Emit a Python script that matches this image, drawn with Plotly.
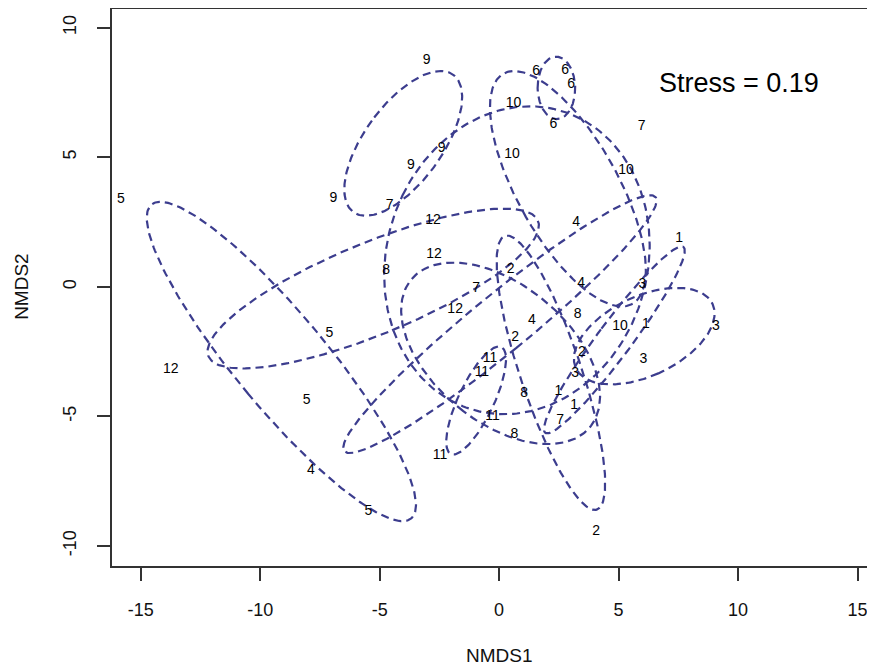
import numpy as np
import plotly.graph_objects as go

# Site scores (NMDS1, NMDS2) per group label
groups = ["1", "2", "3", "4", "5", "6", "7", "8", "9", "10", "11", "12"]
nmds1 = {
    "1": [7.53, 6.14, 2.48, 3.14],
    "2": [0.48, 0.67, 3.46, 4.06],
    "3": [6.00, 9.07, 6.04, 3.18],
    "4": [3.22, 3.43, 1.37, -7.88],
    "5": [-15.83, -7.10, -8.05, -5.47],
    "6": [1.55, 2.76, 3.01, 2.27],
    "7": [-4.58, -0.96, 5.97, 2.55],
    "8": [-4.73, 3.29, 1.05, 0.64],
    "9": [-3.03, -2.40, -3.69, -6.93],
    "10": [0.60, 0.54, 5.31, 5.06],
    "11": [-0.38, -0.72, -0.28, -2.47],
    "12": [-2.77, -2.72, -1.84, -13.74],
}
nmds2 = {
    "1": [1.88, -1.47, -4.04, -4.56],
    "2": [0.68, -1.94, -2.54, -9.45],
    "3": [0.08, -1.53, -2.82, -3.33],
    "4": [2.48, 0.14, -1.30, -7.07],
    "5": [3.36, -1.81, -4.39, -8.68],
    "6": [8.31, 8.35, 7.80, 6.25],
    "7": [3.15, -0.08, 6.19, -5.16],
    "8": [0.63, -1.08, -4.13, -5.68],
    "9": [8.74, 5.33, 4.67, 3.40],
    "10": [7.08, 5.10, 4.49, -1.53],
    "11": [-2.75, -3.29, -5.01, -6.49],
    "12": [2.56, 1.24, -0.86, -3.20],
}
stress = 0.19
x_ticks = [-15, -10, -5, 0, 5, 10, 15]
y_ticks = [-10, -5, 0, 5, 10]

ELL_COLOR = "#3C3D8E"
CONF = 0.95
fig = go.Figure()

# standard-error ellipses (ordiellipse kind="se", conf=0.95)
chi_scale = np.sqrt(-2 * np.log(1 - CONF))
theta = np.linspace(0, 2 * np.pi, 240)
for g in groups:
    pts = np.column_stack([nmds1[g], nmds2[g]])
    n = len(pts)
    c = pts.mean(axis=0)
    cov = np.cov(pts.T, ddof=1) / n
    vals, vecs = np.linalg.eigh(cov)
    circ = np.vstack([np.cos(theta), np.sin(theta)])
    ell = (vecs @ np.diag(np.sqrt(np.maximum(vals, 0))) @ circ).T * chi_scale + c
    fig.add_trace(go.Scatter(x=ell[:, 0], y=ell[:, 1], mode="lines",
                             line=dict(color=ELL_COLOR, width=2.2, dash="8px,5px"),
                             hoverinfo="skip", showlegend=False))

# site labels
for g in groups:
    fig.add_trace(go.Scatter(x=nmds1[g], y=nmds2[g], mode="text",
                             text=[g] * len(nmds1[g]), textposition="middle center",
                             textfont=dict(family="Liberation Sans, Arial", size=14, color="#000"),
                             showlegend=False))

fig.add_annotation(x=6.61, y=7.88, xref="x", yref="y", text=f"Stress = {stress}",
                   showarrow=False, xanchor="left", yanchor="middle",
                   font=dict(family="Liberation Sans, Arial", size=27, color="#000"))

title_font = dict(family="Liberation Sans, Arial", size=19, color="#111")
fig.add_annotation(x=0, y=0, xref="x", yref="paper", text="NMDS1", showarrow=False,
                   xanchor="center", yanchor="middle", yshift=-89, font=title_font)
fig.add_annotation(x=0, y=0, xref="paper", yref="y", text="NMDS2", showarrow=False,
                   xanchor="center", yanchor="middle", xshift=-90, textangle=-90, font=title_font)

axis_font = dict(family="Liberation Sans, Arial", size=18, color="#111")
fig.update_layout(
    width=867, height=659,
    margin=dict(l=104, r=0, t=1, b=101, autoexpand=False),
    paper_bgcolor="white", plot_bgcolor="white",
    showlegend=False,
    xaxis=dict(range=[-16.2, 15.73], tickvals=x_ticks, ticktext=[str(v) for v in x_ticks],
               showgrid=False, zeroline=False, showline=True, linecolor="#333", linewidth=1.5,
               mirror=True, ticks="outside", ticklen=13, tickwidth=1.5, tickcolor="#333",
               tickfont=axis_font, ticklabelstandoff=14, automargin=False),
    yaxis=dict(range=[-10.77, 10.72], tickvals=y_ticks, ticktext=[str(v) for v in y_ticks],
               showgrid=False, zeroline=False, showline=True, linecolor="#333", linewidth=1.5,
               mirror=False, ticks="outside", ticklen=13, tickwidth=1.5, tickcolor="#333",
               tickfont=axis_font, tickangle=-90, ticklabelstandoff=14, automargin=False),
)

fig.write_html("out.html")
